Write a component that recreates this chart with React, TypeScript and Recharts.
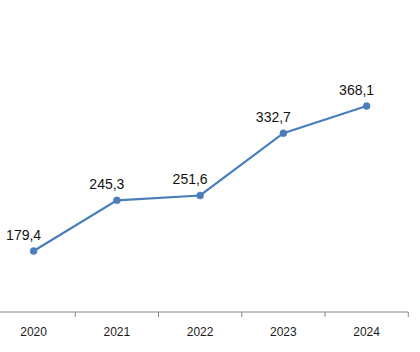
import React from 'react';
import { LineChart, Line, XAxis, YAxis, LabelList } from 'recharts';

const years = ['2020', '2021', '2022', '2023', '2024'];
const values = [179.4, 245.3, 251.6, 332.7, 368.1];

const data = years.map((y, i) => ({ year: y, value: values[i] }));

const CHART_W = 428;
const CHART_H = 352;
const MARGIN = { top: 81.5, right: 11.75, bottom: 0, left: 0 };
const BAND = (CHART_W - MARGIN.left - MARGIN.right) / years.length;

const Tick = (props: any) => {
  const { x, y, payload } = props;
  return (
    <g>
      <line x1={x + BAND / 2} y1={y} x2={x + BAND / 2} y2={y + 5} stroke="#868686" strokeWidth={1} />
      <text
        x={x}
        y={y + 21}
        textAnchor="middle"
        dominantBaseline="middle"
        fontFamily="'Liberation Sans', Arial, sans-serif"
        fontSize={12}
        fill="#1a1a1a"
      >
        {payload.value}
      </text>
    </g>
  );
};

const ValueLabel = (props: any) => {
  const { x, y, value } = props;
  return (
    <text
      x={x - 10}
      y={y - 15}
      textAnchor="middle"
      dominantBaseline="middle"
      fontFamily="'Liberation Sans', Arial, sans-serif"
      fontSize={14}
      fill="#111"
    >
      {Number(value).toFixed(1).replace('.', ',')}
    </text>
  );
};

export default function App() {
  return (
    <div style={{ position: 'absolute', left: -8, top: 0, width: CHART_W, height: CHART_H, background: '#fff' }}>
      <LineChart width={CHART_W} height={CHART_H} data={data} margin={MARGIN}>
        <XAxis
          dataKey="year"
          height={40}
          tickLine={false}
          tickSize={0}
          tickMargin={0}
          padding={{ left: BAND / 2, right: BAND / 2 }}
          axisLine={{ stroke: '#868686', strokeWidth: 1 }}
          tick={<Tick />}
          interval={0}
        />
        <YAxis hide domain={[100, 400]} />
        <Line
          type="linear"
          dataKey="value"
          stroke="#4a7ebb"
          strokeWidth={2.25}
          dot={{ r: 3.5, fill: '#4a7ebb', stroke: '#4a7ebb', strokeWidth: 0.5 }}
          isAnimationActive={false}
        >
          <LabelList dataKey="value" content={<ValueLabel />} />
        </Line>
      </LineChart>
    </div>
  );
}
